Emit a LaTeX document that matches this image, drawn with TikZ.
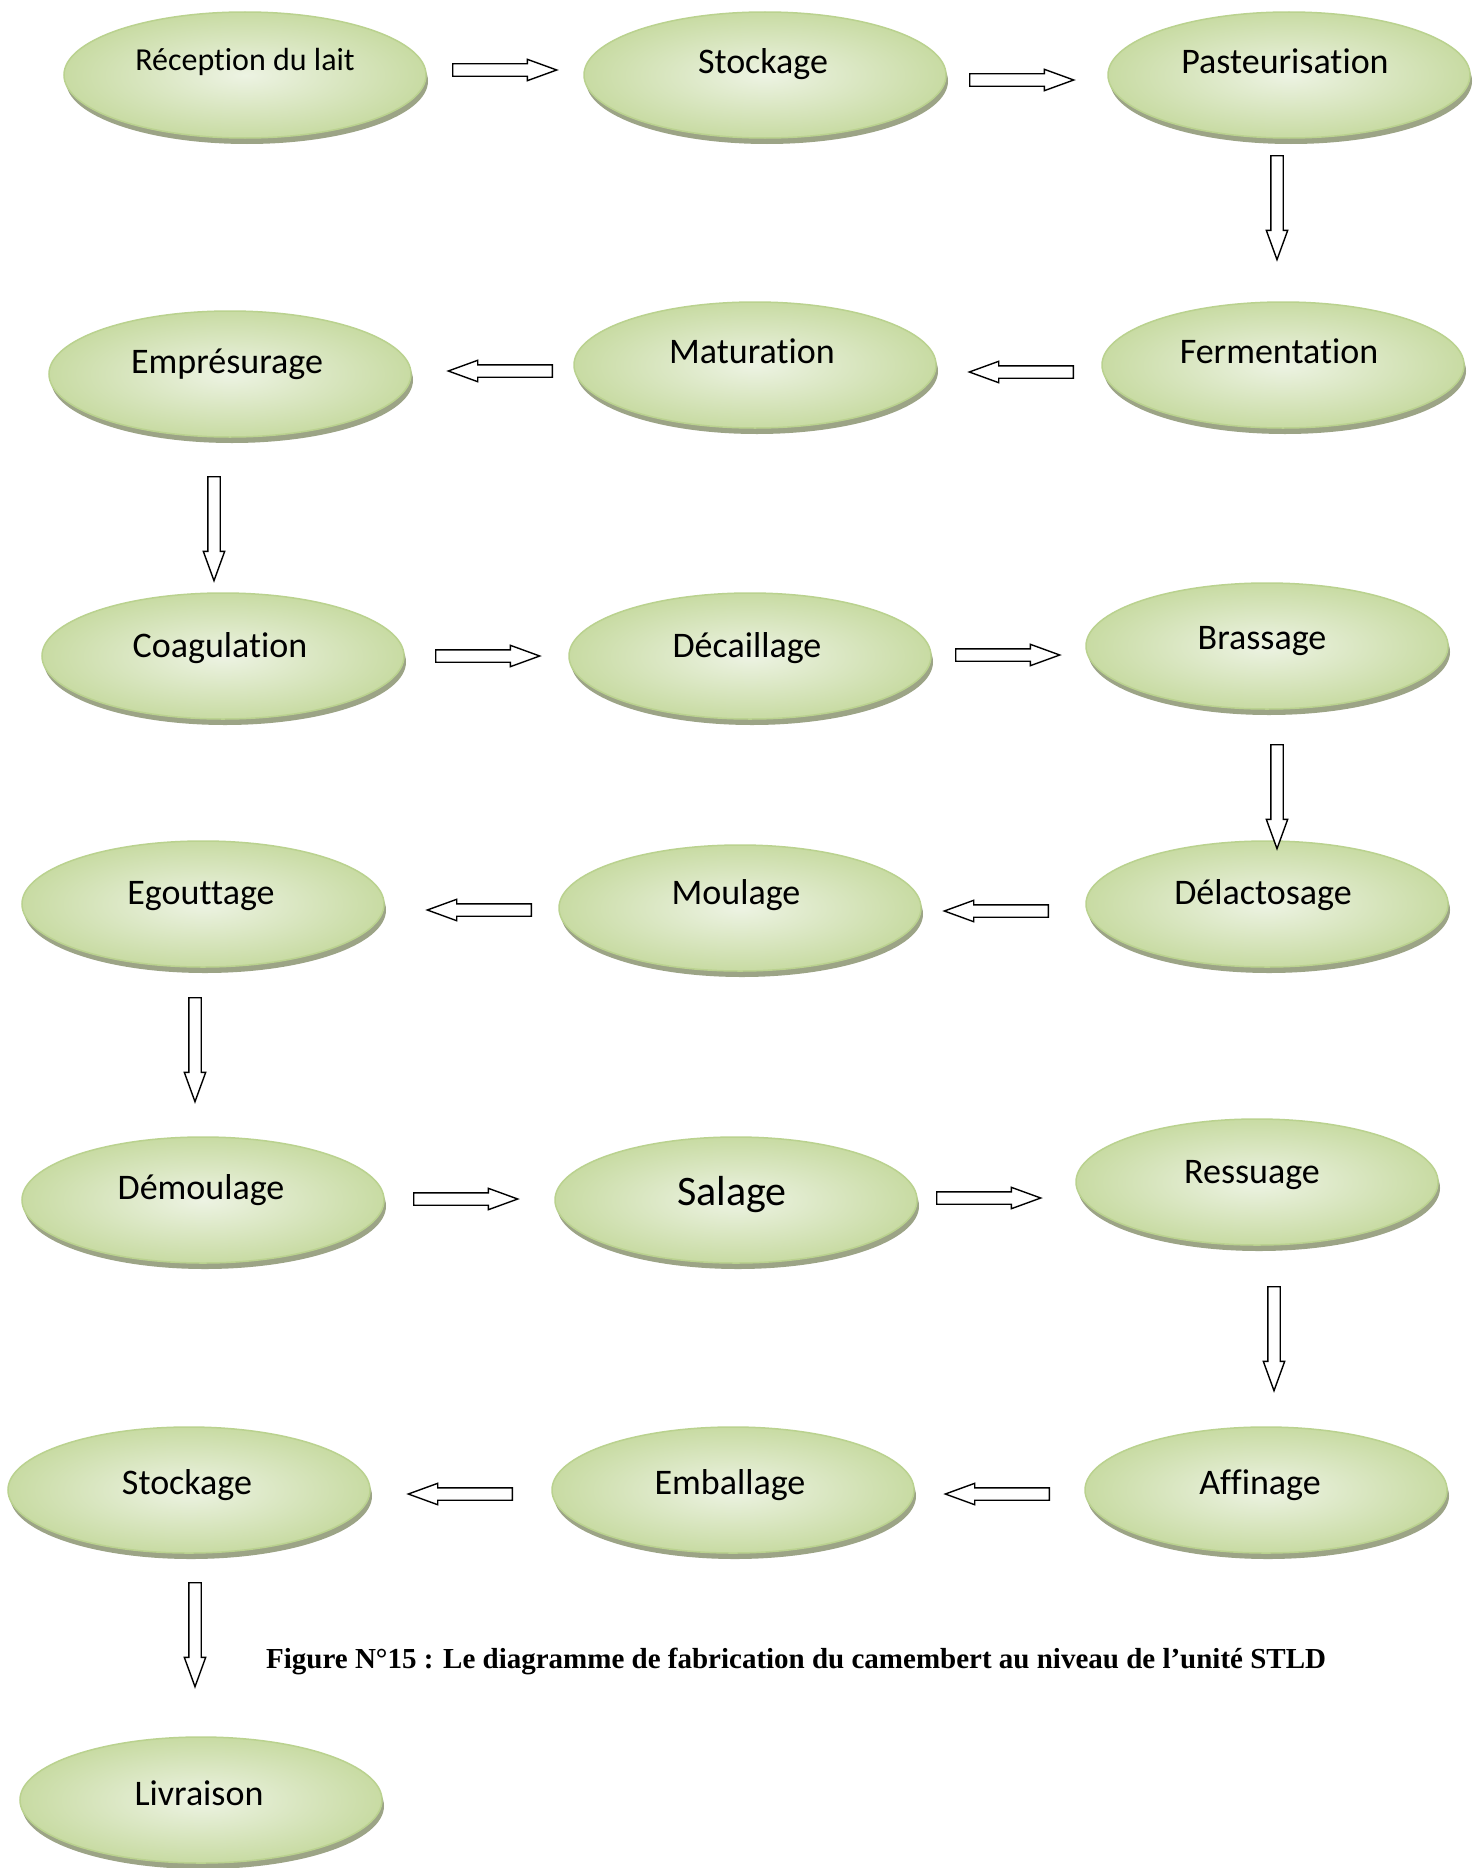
\documentclass[tikz,border=0pt]{standalone}
\usepackage{fontspec}
\setmainfont{Carlito}[Ligatures={NoCommon}]
\newfontfamily\capfont{Liberation Serif}
\usetikzlibrary{shapes.geometric,shapes.arrows,shadows}
\definecolor{rimcol}{HTML}{9CA486}
\definecolor{edgecol}{HTML}{BAD28F}
\definecolor{incol}{HTML}{EDF3E3}
\definecolor{outcol}{HTML}{C8DBA3}
\tikzset{
  stage/.style={ellipse, minimum width=362pt, minimum height=126pt, inner sep=0pt,
    draw=edgecol, line width=1.5pt, inner color=incol, outer color=outcol,
    general shadow={fill=rimcol, shadow xshift=2pt, shadow yshift=-6pt}},
  lbl/.style={font=\fontsize{36}{40}\selectfont, text height=23pt, text depth=0pt, inner sep=0pt},
  blk/.style={single arrow, draw=black, fill=white, line width=1.4pt,
    minimum height=104pt, minimum width=20pt, single arrow head extend=4.5pt,
    single arrow tip angle=40, single arrow head indent=0pt,
    inner xsep=0pt, inner ysep=5.5pt, text height=0pt, text depth=0pt, anchor=tail},
  toE/.style={blk},
  toW/.style={blk, rotate=180},
  toS/.style={blk, rotate=-90}
}
\begin{document}
\begin{tikzpicture}[x=1pt,y=-1pt]
\fill[white] (0,0) rectangle (1478,1868);
\useasboundingbox (0,0) rectangle (1478,1868);
% stages
\node[stage] (e1) at (245,75) {};
\node[stage] (e2) at (765,75) {};
\node[stage] (e3) at (1289,75) {};
\node[stage] (e4) at (230,374) {};
\node[stage] (e5) at (755,365) {};
\node[stage] (e6) at (1283,365) {};
\node[stage] (e7) at (223,656) {};
\node[stage] (e8) at (750,656) {};
\node[stage] (e9) at (1267,646) {};
\node[stage] (e10) at (203,904) {};
\node[stage] (e11) at (740,908) {};
\node[stage] (e12) at (1267,904) {};
\node[stage] (e13) at (203,1200) {};
\node[stage] (e14) at (736,1200) {};
\node[stage] (e15) at (1257,1182) {};
\node[stage] (e16) at (189,1490) {};
\node[stage] (e17) at (733,1490) {};
\node[stage] (e18) at (1266,1490) {};
\node[stage] (e19) at (201,1800) {};
% labels
\node[lbl, font=\fontsize{32}{36}\selectfont, text height=20.5pt] (t1) at (245,60) {Réception du lait};
\node[lbl] (t2) at (763,62) {Stockage};
\node[lbl] (t3) at (1285,62) {Pasteurisation};
\node[lbl] (t4) at (227,362) {Empr\'esurage};
\node[lbl] (t5) at (752,352) {Maturation};
\node[lbl] (t6) at (1279,352) {Fermentation};
\node[lbl] (t7) at (220,646) {Coagulation};
\node[lbl] (t8) at (747,646) {Décaillage};
\node[lbl] (t9) at (1262,638) {Brassage};
\node[lbl] (t10) at (201,893) {Egouttage};
\node[lbl] (t11) at (736,893) {Moulage};
\node[lbl] (t12) at (1263,893) {Délactosage};
\node[lbl] (t13) at (201,1188) {Démoulage};
\node[lbl, font=\fontsize{42}{46}\selectfont, text height=27pt] (t14) at (732,1192) {Salage};
\node[lbl] (t15) at (1252,1172) {Ressuage};
\node[lbl] (t16) at (187,1483) {Stockage};
\node[lbl] (t17) at (730,1483) {Emballage};
\node[lbl] (t18) at (1260,1483) {Affinage};
\node[lbl] (t19) at (199,1794) {Livraison};
% block arrows (placed by their tails)
\node[toE] (a1) at (452,70) {};
\node[toE] (a2) at (969,80) {};
\node[toS] (v1) at (1277,155) {};
\node[toW] (b1) at (1074,372) {};
\node[toW] (b2) at (553,371) {};
\node[toS] (v2) at (214,476) {};
\node[toE] (c1) at (435,656) {};
\node[toE] (c2) at (955,655) {};
\node[toS] (v3) at (1277,744) {};
\node[toW] (d1) at (1049,911) {};
\node[toW] (d2) at (532,910) {};
\node[toS] (v4) at (195,997) {};
\node[toE] (f1) at (413,1199) {};
\node[toE] (f2) at (936,1198) {};
\node[toS] (v5) at (1274,1286) {};
\node[toW] (g1) at (1050,1494) {};
\node[toW] (g2) at (513,1494) {};
\node[toS] (v6) at (195,1582) {};
% caption
\node[font=\capfont\bfseries\fontsize{29}{34}\selectfont, anchor=base west, inner sep=0pt] (cap) at (266,1668)
  {Figure N°15 : Le diagramme de fabrication du camembert au niveau de l’unité STLD};
\end{tikzpicture}
\end{document}
